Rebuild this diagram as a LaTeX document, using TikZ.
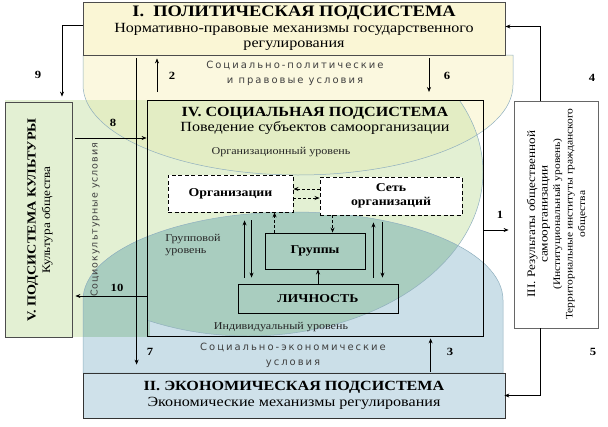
\documentclass[tikz,border=0pt]{standalone}
\usepackage{fontspec}
\setmainfont{Liberation Serif}[FakeStretch=1.15]
\newfontfamily\condfont{DejaVu Sans}[LetterSpace=20]
\newfontfamily\condfontn{DejaVu Sans}[LetterSpace=10]
\usepackage{tikz}
\usetikzlibrary{arrows.meta, positioning, calc}
\definecolor{PolFill}{HTML}{FAF6D5}
\definecolor{PolZone}{HTML}{FBF8DF}
\definecolor{CultZone}{HTML}{E3F0D3}
\definecolor{EcoZone}{HTML}{CBDFE8}
\definecolor{MixYG}{HTML}{E3EDC4}
\definecolor{MixTeal}{HTML}{A9CDBF}
\definecolor{EcoFill}{HTML}{CFE1EA}
\definecolor{EdgeBlue}{HTML}{8FAFBF}
\tikzset{
  bigbox/.style={rectangle, draw=black!70, line width=0.8pt, inner sep=0pt, align=center,
    font=\fontsize{14}{15.5}\selectfont},
  unit/.style={rectangle, draw=black, line width=0.9pt, inner sep=0pt, align=center,
    font=\fontsize{12}{14}\selectfont\bfseries},
  dashbox/.style={unit, dash pattern=on 4pt off 2.5pt, fill=white},
  arr/.style={-{Stealth[length=5pt,width=4pt]}, line width=0.7pt},
  darr/.style={arr, dash pattern=on 3pt off 2pt},
  num/.style={font=\fontsize{11}{11}\selectfont\bfseries},
  cond/.style={font=\condfont\fontsize{10}{15}\selectfont, text=black!75, align=center},
  lvl/.style={font=\fontsize{10.5}{12.5}\selectfont, text=black!85},
  zoneedge/.style={draw=EdgeBlue, line width=0.5pt}
}
\newcommand{\polzone}{(83,55) -- (83,85) arc[start angle=180, end angle=0, x radius=215, y radius=90] -- (513,55) -- cycle}
\newcommand{\ecozone}{(83,373) -- (83,300) arc[start angle=180, end angle=360, x radius=210, y radius=88] -- (503,373) -- cycle}
\newcommand{\cultzone}[1]{%
  \fill[#1] (5,100) rectangle (150,337);
  \begin{scope}
    \clip (0,100) rectangle (608,426);
    \fill[#1] (248,172) ellipse [x radius=235, y radius=164];
  \end{scope}}

\begin{document}
\begin{tikzpicture}[x=1pt, y=-1pt]
  \useasboundingbox (0,0) rectangle (608,426);

  % Zones of conditions
  \fill[PolZone] \polzone;
  \fill[EcoZone] \ecozone;
  \cultzone{CultZone}
  \begin{scope}
    \clip \polzone;
    \cultzone{MixYG}
  \end{scope}
  \begin{scope}
    \clip \ecozone;
    \cultzone{MixTeal}
  \end{scope}
  \draw[zoneedge] \polzone;
  \draw[zoneedge] \ecozone;
  \begin{scope}
    \clip (147,100) rectangle (608,426);
    \draw[zoneedge] (248,172) ellipse [x radius=235, y radius=164];
  \end{scope}

  % Subsystems
  \node[bigbox, fill=PolFill, minimum width=422pt, minimum height=53pt] (pol) at (294,28.5)
    {{\fontsize{16}{17}\selectfont\bfseries I.~ ПОЛИТИЧЕСКАЯ ПОДСИСТЕМА}\\Нормативно-правовые механизмы государственного\\регулирования};
  \node[bigbox, fill=EcoFill, draw=black!80, minimum width=422pt, minimum height=45pt] (eco) at (294,395.5)
    {{\bfseries II. ЭКОНОМИЧЕСКАЯ ПОДСИСТЕМА}\\Экономические механизмы регулирования};
  \node[bigbox, draw=black, minimum width=336pt, minimum height=236pt] (soc) at (315,218) {};
  \node[font=\fontsize{14}{15.5}\selectfont, align=center] (soct) at (315,121)
    {{\bfseries IV. СОЦИАЛЬНАЯ ПОДСИСТЕМА}\\Поведение субъектов самоорганизации};
  \node[bigbox, fill=CultZone, minimum width=67pt, minimum height=235pt] (cult) at (38.5,219.5) {};
  \node[rotate=90, align=center, font=\fontsize{11.5}{14.5}\selectfont] (cultt) at (40,220)
    {{\fontsize{12.3}{14}\selectfont\bfseries V. ПОДСИСТЕМА КУЛЬТУРЫ}\\Культура общества};
  \node[bigbox, fill=white, draw=black!60, minimum width=84pt, minimum height=227pt] (res) at (556,214.5) {};
  \node[rotate=90, align=center, font=\fontsize{10}{12.5}\selectfont] (rest) at (557,214)
    {{\fontsize{11.5}{14}\selectfont III. Результаты общественной}\\{\fontsize{11.5}{14}\selectfont самоорганизации}\\(Институциональный уровень)\\Территориальные институты гражданского\\общества};

  % Levels inside IV
  \node[dashbox, minimum width=125pt, minimum height=37pt] (org) at (230.5,193.5) {Организации};
  \node[dashbox, minimum width=142pt, minimum height=38pt] (net) at (391,196) {Сеть\\организаций};
  \node[unit, minimum width=100pt, minimum height=36pt] (grp) at (315,251) {Группы};
  \node[unit, minimum width=160pt, minimum height=29pt] (lich) at (318,298.5) {ЛИЧНОСТЬ};

  \node[lvl] (orgl) at (281,152) {Организационный уровень};
  \node[lvl, align=left] (grpl) at (193,245) {Групповой\\уровень};
  \node[lvl] (indl) at (281,327) {Индивидуальный уровень};

  % Conditions
  \node[cond] (pcond) at (295,73.5) {Социально-политические\\и правовые условия};
  \node[cond] (econd) at (293,355) {Социально-экономические\\условия};
  \node[cond, font=\condfontn\fontsize{9.5}{12}\selectfont, rotate=90] (ccond) at (95,220) {Социокультурные условия};

  % Arrows inside IV
  \draw[darr] ([yshift=7pt]net.west) -- ([yshift=7pt]net.west -| org.east);
  \draw[darr] ([yshift=-4.5pt]org.east) -- ([yshift=-4.5pt]org.east -| net.west);
  \draw[darr] ([xshift=10pt]grp.north west) -- ([xshift=10pt]grp.north west |- org.south);
  \draw[darr] ([xshift=13pt]net.south west) -- ([xshift=13pt]net.south west |- grp.north);
  \draw[arr] (lich.north) -- (lich.north |- grp.south);
  \draw[arr, shorten <=6pt, shorten >=8pt] ([xshift=7pt]lich.north west) -- ([xshift=7pt]lich.north west |- org.south);
  \draw[arr, shorten <=8pt, shorten >=6pt] ([xshift=14pt]lich.north west |- org.south) -- ([xshift=14pt]lich.north west);
  \draw[arr, shorten <=6pt, shorten >=7pt] ([xshift=-25pt]lich.north east) -- ([xshift=-25pt]lich.north east |- net.south);
  \draw[arr, shorten <=7pt, shorten >=6pt] ([xshift=-16pt]lich.north east |- net.south) -- ([xshift=-16pt]lich.north east);

  % Arrows between subsystems
  \coordinate (c2) at (157,92);
  \coordinate (c6) at (429,92);
  \draw[arr, shorten >=3pt] (c2) -- (c2 |- pol.south);
  \draw[arr, shorten <=3pt] (c6 |- pol.south) -- (c6);
  \draw[arr, shorten <=3pt, shorten >=8pt] ([xshift=54pt]pol.south west) -- ([xshift=54pt]pol.south west |- eco.north);
  \draw[arr, shorten <=1pt, shorten >=2pt] ([xshift=348pt]eco.north west) -- ([xshift=348pt]eco.north west |- soc.south);
  \draw[arr, shorten <=3pt] ([yshift=81.5pt]cult.east) -- ([yshift=81.5pt]cult.east -| soc.west);
  \draw[arr, shorten >=3pt] ([yshift=-76.5pt]cult.east -| soc.west) -- ([yshift=-76.5pt]cult.east);
  \draw[arr, shorten >=5pt] ([yshift=3pt]pol.west) -| ([xshift=23.5pt]cult.north);
  \draw[arr, shorten >=5pt] ([yshift=-12pt]soc.east) -- ([yshift=-12pt]soc.east -| res.west);
  \draw[arr] ([xshift=-16pt]res.north) |- ([yshift=2pt]pol.east);
  \draw[arr, shorten >=-1pt] ([xshift=-16pt]res.south) |- (eco.east);

  % Arrow numbers
  \foreach \nx/\ny/\nt in {38/75/9, 172/76/2, 447/76/6, 592/78/4, 113/123/8, 117/288/10,
                           500/215/1, 150/352/7, 450/352/3, 593/352/5} {
    \node[num] (n\nt) at (\nx,\ny) {\nt};
  }
\end{tikzpicture}
\end{document}
